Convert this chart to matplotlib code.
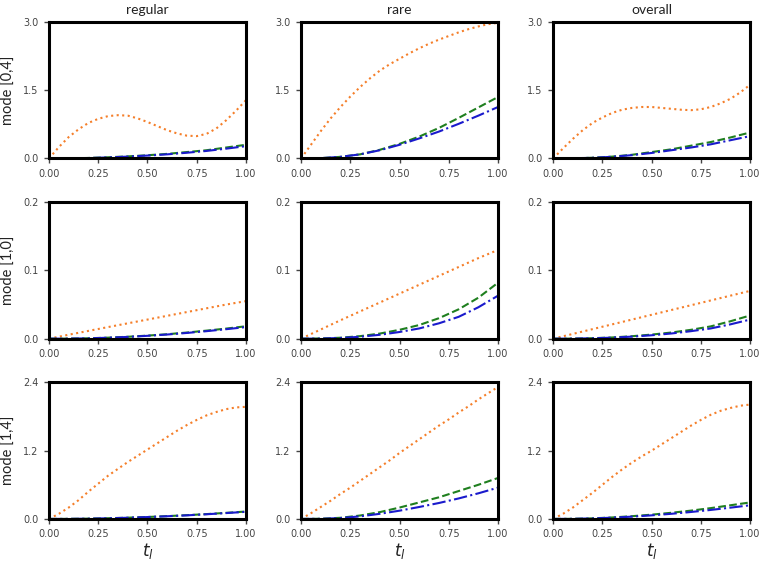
import matplotlib
matplotlib.use("Agg")
import matplotlib.pyplot as plt
import numpy as np

# x grids: fine grid for the curved orange lines, coarse grid for the rest
x_fine = np.linspace(0, 1, 21)
x_coarse = np.linspace(0, 1, 11)

columns = ["regular", "rare", "overall"]
rows = ["mode [0,4]", "mode [1,0]", "mode [1,4]"]
ylims = [3.0, 0.2, 2.4]

# row 1: mode [0,4]
orange_04_regular = [0, 0.25, 0.47, 0.64, 0.78, 0.87, 0.93, 0.95, 0.94, 0.88, 0.80,
                     0.71, 0.62, 0.55, 0.50, 0.49, 0.54, 0.66, 0.84, 1.05, 1.28]
green_04_regular = [0, 0.002, 0.01, 0.025, 0.045, 0.07, 0.10, 0.14, 0.18, 0.24, 0.30]
blue_04_regular = [0, 0.002, 0.009, 0.022, 0.04, 0.063, 0.09, 0.125, 0.165, 0.215, 0.27]

orange_04_rare = [0, 0.30, 0.60, 0.88, 1.13, 1.36, 1.57, 1.76, 1.93, 2.07, 2.19,
                  2.31, 2.42, 2.52, 2.61, 2.69, 2.77, 2.84, 2.90, 2.95, 2.98]
green_04_rare = [0, 0.006, 0.035, 0.09, 0.19, 0.32, 0.48, 0.67, 0.89, 1.12, 1.35]
blue_04_rare = [0, 0.006, 0.035, 0.09, 0.18, 0.30, 0.44, 0.59, 0.76, 0.94, 1.13]

orange_04_overall = [0, 0.22, 0.43, 0.62, 0.78, 0.90, 1.00, 1.07, 1.11, 1.13, 1.13,
                     1.11, 1.09, 1.07, 1.06, 1.08, 1.13, 1.21, 1.31, 1.45, 1.62]
green_04_overall = [0, 0.003, 0.015, 0.04, 0.08, 0.14, 0.20, 0.28, 0.36, 0.46, 0.57]
blue_04_overall = [0, 0.003, 0.014, 0.036, 0.072, 0.12, 0.18, 0.24, 0.31, 0.40, 0.49]

# row 2: mode [1,0]
orange_10_regular = [0, 0.0058, 0.0114, 0.017, 0.0225, 0.028, 0.0335, 0.039, 0.0445, 0.05, 0.055]
green_10_regular = [0, 0.0001, 0.0006, 0.0015, 0.0028, 0.0045, 0.0065, 0.009, 0.0118, 0.0148, 0.0182]
blue_10_regular = [0, 0.0001, 0.0005, 0.0014, 0.0026, 0.0042, 0.0061, 0.0084, 0.011, 0.0139, 0.017]

orange_10_rare = [0, 0.0135, 0.027, 0.04, 0.053, 0.066, 0.079, 0.092, 0.105, 0.118, 0.13]
green_10_rare = [0, 0.0003, 0.0014, 0.0037, 0.0075, 0.013, 0.02, 0.03, 0.043, 0.06, 0.082]
blue_10_rare = [0, 0.0002, 0.001, 0.0028, 0.0057, 0.0098, 0.015, 0.0225, 0.032, 0.046, 0.063]

orange_10_overall = [0, 0.007, 0.014, 0.021, 0.028, 0.035, 0.042, 0.049, 0.056, 0.063, 0.07]
green_10_overall = [0, 0.0001, 0.0007, 0.0018, 0.0036, 0.006, 0.009, 0.013, 0.018, 0.0255, 0.034]
blue_10_overall = [0, 0.0001, 0.0006, 0.0015, 0.003, 0.005, 0.0076, 0.011, 0.015, 0.021, 0.028]

# row 3: mode [1,4]
orange_14_regular = [0, 0.09, 0.20, 0.33, 0.48, 0.62, 0.76, 0.88, 1.00, 1.11, 1.22,
                     1.33, 1.44, 1.55, 1.65, 1.74, 1.82, 1.88, 1.93, 1.96, 1.97]
green_14_regular = [0, 0.001, 0.005, 0.012, 0.022, 0.034, 0.049, 0.066, 0.085, 0.107, 0.13]
blue_14_regular = [0, 0.001, 0.005, 0.011, 0.021, 0.033, 0.047, 0.063, 0.082, 0.103, 0.125]

orange_14_rare = [0, 0.10, 0.21, 0.32, 0.44, 0.55, 0.67, 0.79, 0.91, 1.03, 1.16,
                  1.28, 1.40, 1.52, 1.64, 1.75, 1.87, 1.98, 2.10, 2.21, 2.32]
green_14_rare = [0, 0.003, 0.02, 0.06, 0.12, 0.20, 0.29, 0.38, 0.49, 0.60, 0.72]
blue_14_rare = [0, 0.002, 0.015, 0.045, 0.09, 0.145, 0.21, 0.28, 0.36, 0.45, 0.55]

orange_14_overall = [0, 0.09, 0.20, 0.33, 0.46, 0.60, 0.74, 0.87, 0.99, 1.10, 1.20,
                     1.31, 1.42, 1.53, 1.64, 1.74, 1.83, 1.90, 1.95, 1.99, 2.01]
green_14_overall = [0, 0.002, 0.01, 0.026, 0.048, 0.075, 0.108, 0.146, 0.19, 0.24, 0.29]
blue_14_overall = [0, 0.002, 0.009, 0.022, 0.04, 0.063, 0.09, 0.122, 0.158, 0.198, 0.24]

panels = [
    [(orange_04_regular, green_04_regular, blue_04_regular),
     (orange_04_rare, green_04_rare, blue_04_rare),
     (orange_04_overall, green_04_overall, blue_04_overall)],
    [(orange_10_regular, green_10_regular, blue_10_regular),
     (orange_10_rare, green_10_rare, blue_10_rare),
     (orange_10_overall, green_10_overall, blue_10_overall)],
    [(orange_14_regular, green_14_regular, blue_14_regular),
     (orange_14_rare, green_14_rare, blue_14_rare),
     (orange_14_overall, green_14_overall, blue_14_overall)],
]


def grid_for(values):
    return x_fine if len(values) == len(x_fine) else x_coarse


plt.rcParams['font.family'] = ['Lato', 'DejaVu Sans']
plt.rcParams['mathtext.fontset'] = 'dejavusans'

fig, axes = plt.subplots(3, 3, figsize=(7.6, 5.61), dpi=100)
fig.subplots_adjust(left=0.0645, right=0.987, top=0.961, bottom=0.075,
                    wspace=0.28, hspace=0.32)

for i in range(3):
    for j in range(3):
        ax = axes[i, j]
        orange, green, blue = panels[i][j]
        ax.plot(grid_for(orange), orange, linestyle=':', color='#f57f2a', lw=1.5)
        ax.plot(grid_for(green), green, linestyle='--', color='#1f7f1f', lw=1.5)
        ax.plot(grid_for(blue), blue, linestyle='-.', color='#1a1acc', lw=1.5)
        ax.set_xlim(0, 1)
        ax.set_ylim(0, ylims[i])
        ax.set_xticks([0, 0.25, 0.5, 0.75, 1.0])
        ax.set_xticklabels(["0.00", "0.25", "0.50", "0.75", "1.00"])
        ax.set_yticks([0, ylims[i] / 2, ylims[i]])
        ax.set_yticklabels([f"{v:.1f}" for v in [0, ylims[i] / 2, ylims[i]]])
        for s in ax.spines.values():
            s.set_linewidth(2.2)
            s.set_color('black')
        ax.tick_params(axis='both', labelsize=7, colors='#444444', length=3.5,
                       width=1, direction='out', pad=4)
        for lab in ax.get_xticklabels() + ax.get_yticklabels():
            lab.set_family('DejaVu Sans')
        if i == 0:
            ax.set_title(columns[j], fontsize=10, color='#222222', pad=6)
        if j == 0:
            ax.set_ylabel(rows[i], fontsize=10.5, color='#222222', labelpad=5)
        if i == 2:
            ax.set_xlabel(r"$t_l$", fontsize=12, color='#222222', labelpad=1)

fig.savefig("out.png", dpi=100)
